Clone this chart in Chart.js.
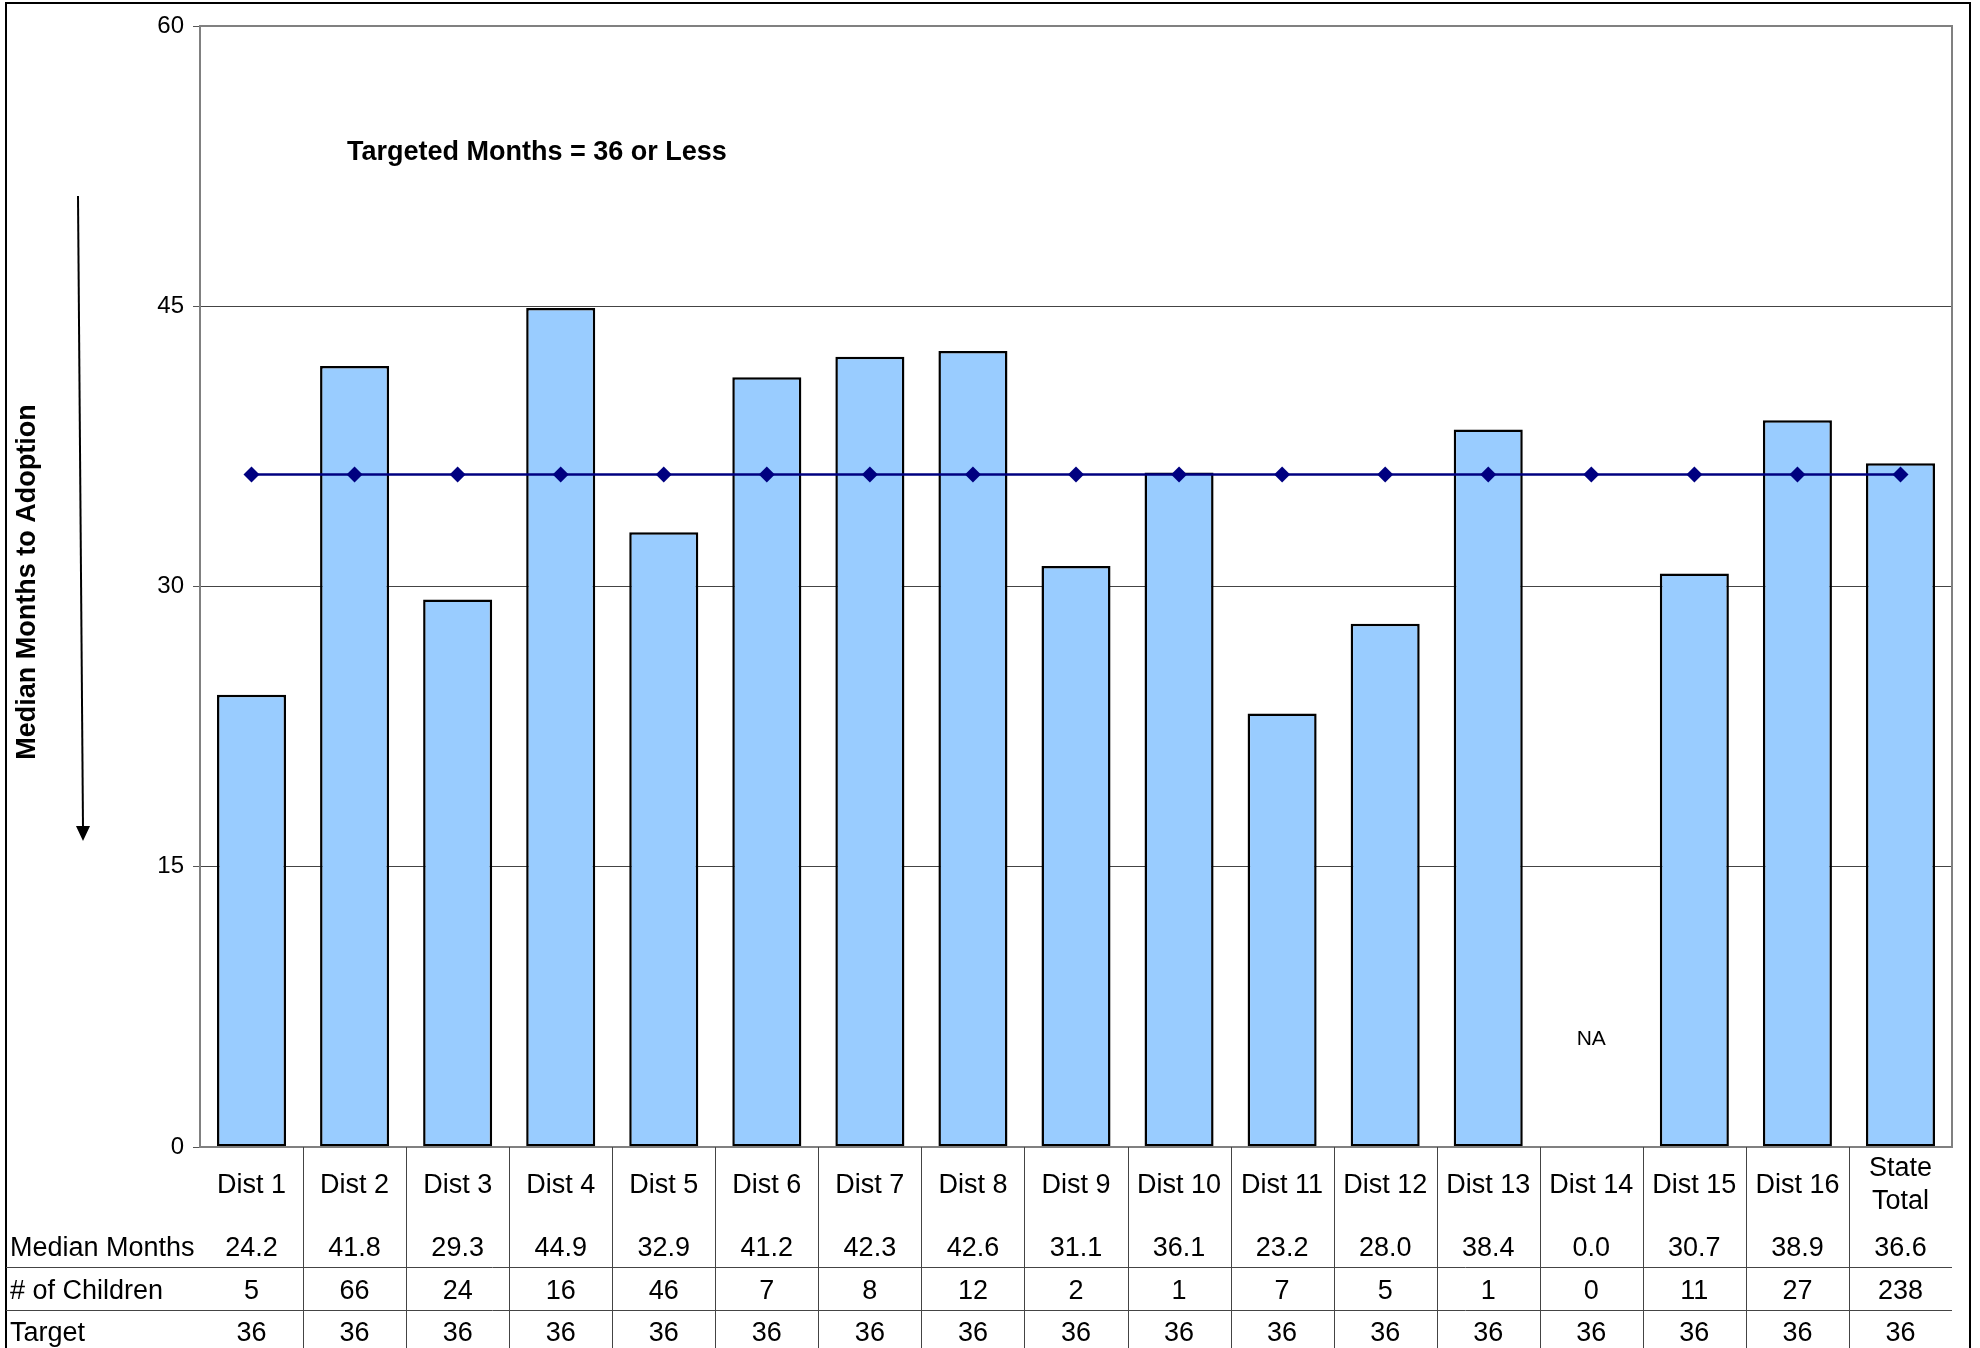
<!DOCTYPE html>
<html>
<head>
<meta charset="utf-8">
<script src="https://cdn.jsdelivr.net/npm/chart.js@4"></script>
<style>
    html, body { margin: 0; padding: 0; background: #fff; }
    canvas { display: block; }
</style>
</head>
<body>
<canvas id="adoptionChart" width="1980" height="1348"></canvas>
<script>
// Chart data
const districts = ['Dist 1', 'Dist 2', 'Dist 3', 'Dist 4', 'Dist 5', 'Dist 6', 'Dist 7', 'Dist 8', 'Dist 9',
    'Dist 10', 'Dist 11', 'Dist 12', 'Dist 13', 'Dist 14', 'Dist 15', 'Dist 16', ['State', 'Total']];
const medianMonths = [24.2, 41.8, 29.3, 44.9, 32.9, 41.2, 42.3, 42.6, 31.1, 36.1, 23.2, 28.0, 38.4, 0.0, 30.7, 38.9, 36.6];
const numChildren = [5, 66, 24, 16, 46, 7, 8, 12, 2, 1, 7, 5, 1, 0, 11, 27, 238];
const target = [36, 36, 36, 36, 36, 36, 36, 36, 36, 36, 36, 36, 36, 36, 36, 36, 36];
const yTicks = [0, 15, 30, 45, 60];
const rowLabels = ['Median Months', '# of Children', 'Target'];
const noteText = 'Targeted Months = 36 or Less';
const axisTitle = 'Median Months to Adoption';

const FONT = '"Liberation Sans", Arial, sans-serif';

// Draws the frame, titles, arrow and the data table under the plot
const tablePlugin = {
    id: 'dataTable',
    afterDraw(chart) {
        const { ctx, chartArea: a, scales: { x, y } } = chart;
        const n = districts.length;
        const cw = (a.right - a.left) / n;
        const H = chart.height;

        ctx.save();

        // plot frame
        ctx.strokeStyle = '#808080';
        ctx.lineWidth = 2;
        ctx.strokeRect(a.left, a.top, a.right - a.left, a.bottom - a.top);

        // outer border
        ctx.strokeStyle = '#000';
        ctx.lineWidth = 2;
        ctx.strokeRect(6, 3, 1964, H + 20);

        // table grid
        ctx.strokeStyle = '#444';
        ctx.lineWidth = 1;
        ctx.beginPath();
        for (let i = 1; i < n; i++) {
            const lx = Math.round(a.left + i * cw) + 0.5;
            ctx.moveTo(lx, a.bottom);
            ctx.lineTo(lx, H);
        }
        [120, 163].forEach(off => {
            ctx.moveTo(6, a.bottom + off + 0.5);
            ctx.lineTo(a.right, a.bottom + off + 0.5);
        });
        ctx.stroke();

        // category labels and table values
        ctx.fillStyle = '#000';
        ctx.font = '27px ' + FONT;
        ctx.textAlign = 'center';
        ctx.textBaseline = 'middle';
        districts.forEach((d, i) => {
            const cx = x.getPixelForValue(i);
            if (Array.isArray(d)) {
                ctx.fillText(d[0], cx, a.bottom + 22);
                ctx.fillText(d[1], cx, a.bottom + 55);
            } else {
                ctx.fillText(d, cx, a.bottom + 39);
            }
            ctx.fillText(medianMonths[i].toFixed(1), cx, a.bottom + 102);
            ctx.fillText(String(numChildren[i]), cx, a.bottom + 145);
            ctx.fillText(String(target[i]), cx, a.bottom + 187);
        });

        // row labels
        ctx.textAlign = 'left';
        ctx.fillText(rowLabels[0], 10, a.bottom + 102);
        ctx.fillText(rowLabels[1], 10, a.bottom + 145);
        ctx.fillText(rowLabels[2], 10, a.bottom + 187);

        // NA label for district without data
        ctx.textAlign = 'center';
        ctx.font = '21px ' + FONT;
        medianMonths.forEach((v, i) => {
            if (v === 0) ctx.fillText('NA', x.getPixelForValue(i), y.getPixelForValue(5.75));
        });

        // note
        ctx.textAlign = 'left';
        ctx.font = 'bold 27px ' + FONT;
        ctx.fillText(noteText, a.left + 147, a.top + 127);

        // y axis title
        ctx.save();
        ctx.translate(28, 582);
        ctx.rotate(-Math.PI / 2);
        ctx.textAlign = 'center';
        ctx.fillText(axisTitle, 0, 0);
        ctx.restore();

        // arrow
        ctx.strokeStyle = '#000';
        ctx.lineWidth = 2;
        ctx.beginPath();
        ctx.moveTo(78, 196);
        ctx.lineTo(83, 828);
        ctx.stroke();
        ctx.beginPath();
        ctx.moveTo(76, 826);
        ctx.lineTo(90, 826);
        ctx.lineTo(83, 841);
        ctx.closePath();
        ctx.fill();

        ctx.restore();
    }
};

const ctx = document.getElementById('adoptionChart').getContext('2d');
new Chart(ctx, {
    type: 'bar',
    data: {
        labels: districts,
        datasets: [{
            type: 'line',
            label: 'Target',
            data: target,
            order: 0,
            borderColor: '#000080',
            backgroundColor: '#000080',
            borderWidth: 2.5,
            pointStyle: 'rectRot',
            pointRadius: 8,
            pointBorderWidth: 0,
            tension: 0
        }, {
            type: 'bar',
            label: 'Median Months',
            data: medianMonths,
            order: 1,
            backgroundColor: '#99ccff',
            borderColor: '#000',
            borderWidth: c => (c.raw === 0 ? 0 : 2.5),
            borderSkipped: false,
            categoryPercentage: 1,
            barPercentage: 0.67
        }]
    },
    options: {
        responsive: false,
        devicePixelRatio: 1,
        animation: false,
        layout: {
            padding: { left: 140, right: 28, top: 26, bottom: 201 }
        },
        plugins: {
            legend: { display: false },
            tooltip: { enabled: false }
        },
        scales: {
            x: {
                display: false
            },
            y: {
                min: 0,
                max: 60,
                afterFit: s => { s.width = 60; },
                afterBuildTicks: s => { s.ticks = yTicks.map(v => ({ value: v })); },
                ticks: {
                    color: '#000',
                    padding: 9,
                    font: { family: FONT, size: 24 }
                },
                border: { display: false },
                grid: {
                    tickLength: 7,
                    tickColor: '#555',
                    color: c => (c.tick.value === 0 || c.tick.value === 60 ? 'rgba(0,0,0,0)' : '#444'),
                    lineWidth: 1
                }
            }
        }
    },
    plugins: [tablePlugin]
});
</script>
</body>
</html>
